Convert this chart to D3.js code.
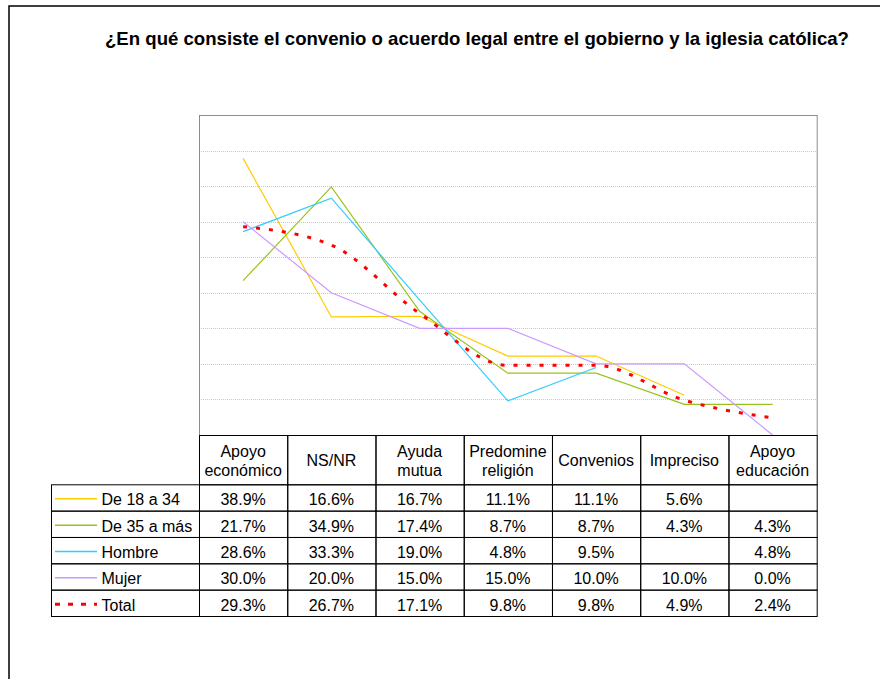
<!DOCTYPE html>
<html>
<head>
<meta charset="utf-8">
<script src="https://cdn.jsdelivr.net/npm/d3@7"></script>
<style>
  body { margin: 0; background: #fff; }
  svg { display: block; font-family: "Liberation Sans", Arial, sans-serif; }
</style>
</head>
<body>
<svg id="chart" width="880" height="679"></svg>
<script>
// chart data
var title = '¿En qué consiste el convenio o acuerdo legal entre el gobierno y la iglesia católica?';
var categories = ['Apoyo económico', 'NS/NR', 'Ayuda mutua', 'Predomine religión', 'Convenios', 'Impreciso', 'Apoyo educación'];
var headerLines = [['Apoyo', 'económico'], ['NS/NR'], ['Ayuda', 'mutua'], ['Predomine', 'religión'], ['Convenios'], ['Impreciso'], ['Apoyo', 'educación']];
var seriesNames = ['De 18 a 34', 'De 35 a más', 'Hombre', 'Mujer', 'Total'];
var de18a34 = [38.9, 16.6, 16.7, 11.1, 11.1, 5.6, null];
var de35aMas = [21.7, 34.9, 17.4, 8.7, 8.7, 4.3, 4.3];
var hombre = [28.6, 33.3, 19.0, 4.8, 9.5, null, 4.8];
var mujer = [30.0, 20.0, 15.0, 15.0, 10.0, 10.0, 0.0];
var total = [29.3, 26.7, 17.1, 9.8, 9.8, 4.9, 2.4];
var yTicks = [5, 10, 15, 20, 25, 30, 35, 40];

var series = [
  { name: seriesNames[0], values: de18a34, color: '#ffcc00', width: 1.2 },
  { name: seriesNames[1], values: de35aMas, color: '#99c31a', width: 1.2 },
  { name: seriesNames[2], values: hombre, color: '#33ccff', width: 1.2 },
  { name: seriesNames[3], values: mujer, color: '#cc99ff', width: 1.2 },
  { name: seriesNames[4], values: total, color: '#ff0000', width: 3, dash: '4,9', smooth: true }
];

var svg = d3.select('#chart');
var plot = { left: 199, right: 816.7, top: 115, bottom: 435 };
var table = { left: 51, headerTop: 435, headerBottom: 484.3, rowH: 26.34 };

var x = d3.scalePoint().domain(categories).range([plot.left, plot.right]).padding(0.5);
var y = d3.scaleLinear().domain([0, 45]).range([plot.bottom, plot.top]);
var colW = x.step();

// outer frame
svg.append('rect')
  .attr('x', 9).attr('y', 6).attr('width', 900).attr('height', 700)
  .attr('fill', 'none').attr('stroke', '#000').attr('stroke-width', 1.5);

svg.append('text')
  .attr('x', 477).attr('y', 45)
  .attr('text-anchor', 'middle')
  .attr('font-size', 18.6).attr('font-weight', 'bold')
  .text(title);

// gridlines
svg.append('g').selectAll('line').data(yTicks).enter().append('line')
  .attr('x1', plot.left).attr('x2', plot.right)
  .attr('y1', function(d) { return Math.round(y(d)) + 0.5; })
  .attr('y2', function(d) { return Math.round(y(d)) + 0.5; })
  .attr('stroke', '#c8c8c8').attr('stroke-dasharray', '1,1');

svg.append('rect')
  .attr('x', plot.left + 0.5).attr('y', plot.top + 0.5)
  .attr('width', plot.right - plot.left).attr('height', plot.bottom - plot.top)
  .attr('fill', 'none').attr('stroke', '#8c8c8c');

// lines
var lineStraight = d3.line()
  .defined(function(d) { return d != null; })
  .x(function(d, i) { return x(categories[i]); })
  .y(function(d) { return y(d); });
var lineSmooth = d3.line()
  .defined(function(d) { return d != null; })
  .x(function(d, i) { return x(categories[i]); })
  .y(function(d) { return y(d); })
  .curve(d3.curveMonotoneX);

svg.append('g').selectAll('path').data(series).enter().append('path')
  .attr('d', function(s) { return (s.smooth ? lineSmooth : lineStraight)(s.values); })
  .attr('fill', 'none')
  .attr('stroke', function(s) { return s.color; })
  .attr('stroke-width', function(s) { return s.width; })
  .attr('stroke-dasharray', function(s) { return s.dash || null; });

// data table
var tg = svg.append('g').attr('font-size', 16).attr('fill', '#000');

// header cells
categories.forEach(function(c, i) {
  var x0 = plot.left + i * colW;
  tg.append('rect')
    .attr('x', x0 + 0.5).attr('y', table.headerTop + 0.5)
    .attr('width', colW).attr('height', table.headerBottom - table.headerTop)
    .attr('fill', 'none').attr('stroke', '#000');
  var lines = headerLines[i];
  var t = tg.append('text').attr('text-anchor', 'middle');
  if (lines.length === 1) {
    t.append('tspan').attr('x', x(c)).attr('y', 466).text(lines[0]);
  } else {
    t.append('tspan').attr('x', x(c)).attr('y', 457).text(lines[0]);
    t.append('tspan').attr('x', x(c)).attr('y', 475.5).text(lines[1]);
  }
});

// body rows
series.forEach(function(s, r) {
  var top = table.headerBottom + r * table.rowH;
  var base = top + 21;
  tg.append('rect')
    .attr('x', table.left + 0.5).attr('y', top + 0.5)
    .attr('width', plot.left - table.left).attr('height', table.rowH)
    .attr('fill', 'none').attr('stroke', '#000');
  tg.append('line')
    .attr('x1', 55).attr('x2', 97)
    .attr('y1', top + 14.5).attr('y2', top + 14.5)
    .attr('stroke', s.color)
    .attr('stroke-width', s.dash ? 3 : 1.5)
    .attr('stroke-dasharray', s.dash ? '5,8' : null);
  tg.append('text').attr('x', 101.5).attr('y', base).text(s.name);
  categories.forEach(function(c, i) {
    var x0 = plot.left + i * colW;
    tg.append('rect')
      .attr('x', x0 + 0.5).attr('y', top + 0.5)
      .attr('width', colW).attr('height', table.rowH)
      .attr('fill', 'none').attr('stroke', '#000');
    var v = s.values[i];
    if (v != null) {
      tg.append('text').attr('x', x(c)).attr('y', base)
        .attr('text-anchor', 'middle')
        .text(v.toFixed(1) + '%');
    }
  });
});
</script>
</body>
</html>
